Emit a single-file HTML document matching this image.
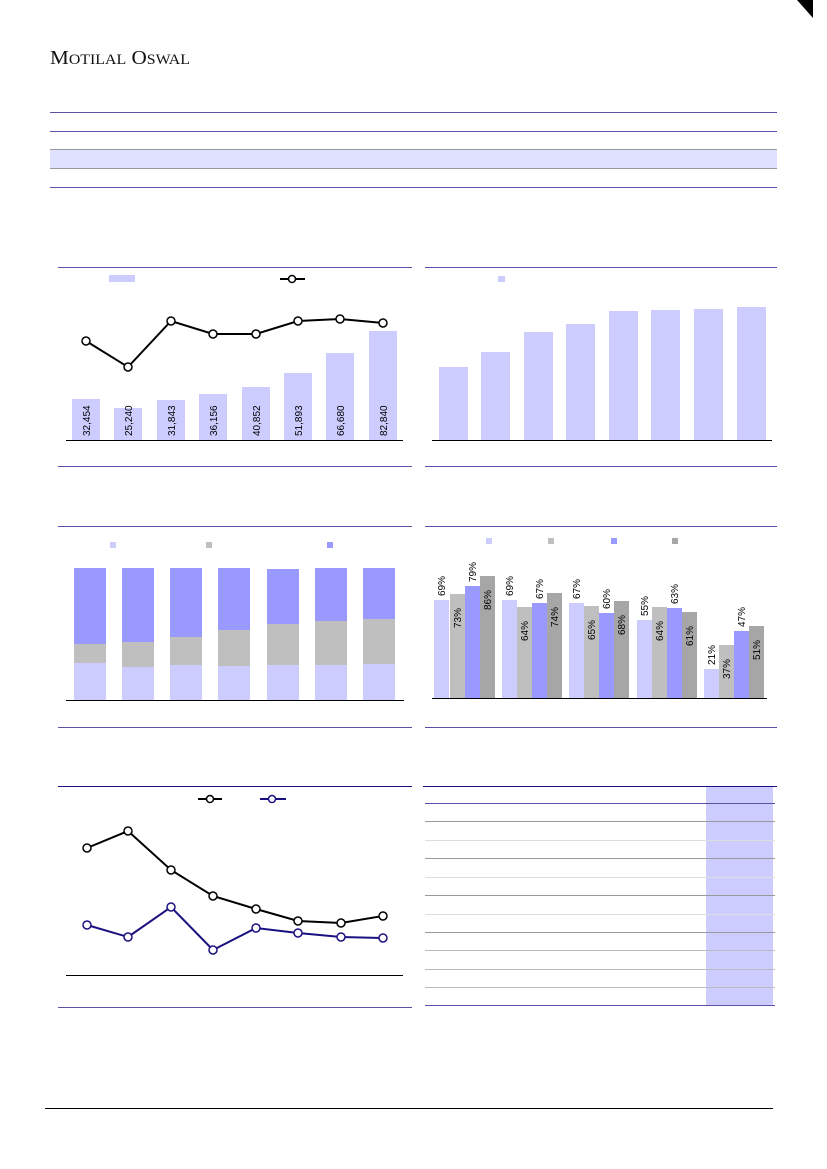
<!DOCTYPE html>
<html><head><meta charset="utf-8"><style>
body{margin:0;background:#fff;}
svg{display:block;font-family:"Liberation Sans",sans-serif;}
</style></head><body>
<svg width="827" height="1169" viewBox="0 0 827 1169" xmlns="http://www.w3.org/2000/svg">
<polygon points="797,0 813,0 813,18" fill="#000"/>
<text x="50" y="64" font-family="Liberation Serif" font-size="20" fill="#111" textLength="140" lengthAdjust="spacingAndGlyphs">M<tspan font-size="15">OTILAL</tspan> O<tspan font-size="15">SWAL</tspan></text>
<g shape-rendering="crispEdges">
<rect x="50" y="149" width="727" height="19" fill="#e0e0ff"/>
<line x1="50" y1="112.5" x2="777" y2="112.5" stroke="#5b50a8"/>
<line x1="50" y1="131.5" x2="777" y2="131.5" stroke="#5b50a8"/>
<line x1="50" y1="149.5" x2="777" y2="149.5" stroke="#999"/>
<line x1="50" y1="168.5" x2="777" y2="168.5" stroke="#999"/>
<line x1="50" y1="187.5" x2="777" y2="187.5" stroke="#5b50a8"/>

<line x1="58" y1="267.5" x2="412" y2="267.5" stroke="#5b50a8"/>
<line x1="58" y1="466.5" x2="412" y2="466.5" stroke="#5b50a8"/>
<line x1="425" y1="267.5" x2="777" y2="267.5" stroke="#5b50a8"/>
<line x1="425" y1="466.5" x2="777" y2="466.5" stroke="#5b50a8"/>
<line x1="58" y1="526.5" x2="412" y2="526.5" stroke="#5b50a8"/>
<line x1="58" y1="727.5" x2="412" y2="727.5" stroke="#5b50a8"/>
<line x1="425" y1="526.5" x2="777" y2="526.5" stroke="#5b50a8"/>
<line x1="425" y1="727.5" x2="777" y2="727.5" stroke="#5b50a8"/>
<line x1="58" y1="786.5" x2="412" y2="786.5" stroke="#1a1080"/>
<line x1="58" y1="1007.5" x2="412" y2="1007.5" stroke="#5b50a8"/>
</g>

<!-- chart 1 -->
<rect x="109" y="275" width="26" height="7" fill="#ccccff"/>
<line x1="280" y1="279" x2="305" y2="279" stroke="#000" stroke-width="2"/>
<circle cx="292" cy="279" r="3.5" fill="#fff" stroke="#000" stroke-width="1.5"/>
<g fill="#ccccff">
<rect x="72" y="399" width="28" height="41"/><rect x="114" y="408" width="28" height="32"/>
<rect x="157" y="400" width="28" height="40"/><rect x="199" y="394" width="28" height="46"/>
<rect x="242" y="387" width="28" height="53"/><rect x="284" y="373" width="28" height="67"/>
<rect x="326" y="353" width="28" height="87"/><rect x="369" y="331" width="28" height="109"/>
</g>
<line x1="66" y1="440.5" x2="403" y2="440.5" stroke="#000"/>
<g font-size="10" fill="#000">
<text transform="translate(90,436) rotate(-90)">32,454</text>
<text transform="translate(132,436) rotate(-90)">25,240</text>
<text transform="translate(175,436) rotate(-90)">31,843</text>
<text transform="translate(217,436) rotate(-90)">36,156</text>
<text transform="translate(260,436) rotate(-90)">40,852</text>
<text transform="translate(302,436) rotate(-90)">51,893</text>
<text transform="translate(344,436) rotate(-90)">66,680</text>
<text transform="translate(387,436) rotate(-90)">82,840</text>
</g>
<polyline points="86,341 128,367 171,321 213,334 256,334 298,321 340,319 383,323" fill="none" stroke="#000" stroke-width="2"/>
<g fill="#fff" stroke="#000" stroke-width="1.5">
<circle cx="86" cy="341" r="4"/><circle cx="128" cy="367" r="4"/><circle cx="171" cy="321" r="4"/><circle cx="213" cy="334" r="4"/><circle cx="256" cy="334" r="4"/><circle cx="298" cy="321" r="4"/><circle cx="340" cy="319" r="4"/><circle cx="383" cy="323" r="4"/>
</g>

<!-- chart 2 -->
<rect x="498" y="276" width="7" height="6" fill="#ccccff"/>
<g fill="#ccccff">
<rect x="439" y="367" width="29" height="73"/><rect x="481" y="352" width="29" height="88"/>
<rect x="524" y="332" width="29" height="108"/><rect x="566" y="324" width="29" height="116"/>
<rect x="609" y="311" width="29" height="129"/><rect x="651" y="310" width="29" height="130"/>
<rect x="694" y="309" width="29" height="131"/><rect x="737" y="307" width="29" height="133"/>
</g>
<line x1="432" y1="440.5" x2="772" y2="440.5" stroke="#000"/>

<!-- chart 3 -->
<rect x="110" y="542" width="6" height="6" fill="#ccccff"/>
<rect x="206" y="542" width="6" height="6" fill="#bfbfbf"/>
<rect x="327" y="542" width="6" height="6" fill="#9999ff"/>
<g>
<rect x="74" y="568" width="32" height="76" fill="#9999ff"/><rect x="74" y="644" width="32" height="19" fill="#bfbfbf"/><rect x="74" y="663" width="32" height="37" fill="#ccccff"/>
<rect x="122" y="568" width="32" height="74" fill="#9999ff"/><rect x="122" y="642" width="32" height="25" fill="#bfbfbf"/><rect x="122" y="667" width="32" height="33" fill="#ccccff"/>
<rect x="170" y="568" width="32" height="69" fill="#9999ff"/><rect x="170" y="637" width="32" height="28" fill="#bfbfbf"/><rect x="170" y="665" width="32" height="35" fill="#ccccff"/>
<rect x="218" y="568" width="32" height="62" fill="#9999ff"/><rect x="218" y="630" width="32" height="36" fill="#bfbfbf"/><rect x="218" y="666" width="32" height="34" fill="#ccccff"/>
<rect x="267" y="569" width="32" height="55" fill="#9999ff"/><rect x="267" y="624" width="32" height="41" fill="#bfbfbf"/><rect x="267" y="665" width="32" height="35" fill="#ccccff"/>
<rect x="315" y="568" width="32" height="53" fill="#9999ff"/><rect x="315" y="621" width="32" height="44" fill="#bfbfbf"/><rect x="315" y="665" width="32" height="35" fill="#ccccff"/>
<rect x="363" y="568" width="32" height="51" fill="#9999ff"/><rect x="363" y="619" width="32" height="45" fill="#bfbfbf"/><rect x="363" y="664" width="32" height="36" fill="#ccccff"/>
</g>
<line x1="66" y1="700.5" x2="404" y2="700.5" stroke="#000"/>

<!-- chart 4 -->
<rect x="486" y="538" width="6" height="6" fill="#ccccff"/>
<rect x="548" y="538" width="6" height="6" fill="#bfbfbf"/>
<rect x="611" y="538" width="6" height="6" fill="#9999ff"/>
<rect x="672" y="538" width="6" height="6" fill="#a6a6a6"/>
<g>
<rect x="434" y="600" width="15" height="98" fill="#ccccff"/><rect x="450" y="594" width="15" height="104" fill="#bfbfbf"/><rect x="465" y="586" width="15" height="112" fill="#9999ff"/><rect x="480" y="576" width="15" height="122" fill="#a6a6a6"/>
<rect x="502" y="600" width="15" height="98" fill="#ccccff"/><rect x="517" y="607" width="15" height="91" fill="#bfbfbf"/><rect x="532" y="603" width="15" height="95" fill="#9999ff"/><rect x="547" y="593" width="15" height="105" fill="#a6a6a6"/>
<rect x="569" y="603" width="15" height="95" fill="#ccccff"/><rect x="584" y="606" width="15" height="92" fill="#bfbfbf"/><rect x="599" y="613" width="15" height="85" fill="#9999ff"/><rect x="614" y="601" width="15" height="97" fill="#a6a6a6"/>
<rect x="637" y="620" width="15" height="78" fill="#ccccff"/><rect x="652" y="607" width="15" height="91" fill="#bfbfbf"/><rect x="667" y="608" width="15" height="90" fill="#9999ff"/><rect x="682" y="612" width="15" height="86" fill="#a6a6a6"/>
<rect x="704" y="669" width="15" height="29" fill="#ccccff"/><rect x="719" y="645" width="15" height="53" fill="#bfbfbf"/><rect x="734" y="631" width="15" height="67" fill="#9999ff"/><rect x="749" y="626" width="15" height="72" fill="#a6a6a6"/>
</g>
<line x1="432" y1="698.5" x2="767" y2="698.5" stroke="#000"/>
<g font-size="10" fill="#000">
<text transform="translate(445,596) rotate(-90)">69%</text>
<text transform="translate(461,628) rotate(-90)">73%</text>
<text transform="translate(476,582) rotate(-90)">79%</text>
<text transform="translate(491,610) rotate(-90)">86%</text>
<text transform="translate(513,596) rotate(-90)">69%</text>
<text transform="translate(528,641) rotate(-90)">64%</text>
<text transform="translate(543,599) rotate(-90)">67%</text>
<text transform="translate(558,627) rotate(-90)">74%</text>
<text transform="translate(580,599) rotate(-90)">67%</text>
<text transform="translate(595,640) rotate(-90)">65%</text>
<text transform="translate(610,609) rotate(-90)">60%</text>
<text transform="translate(625,635) rotate(-90)">68%</text>
<text transform="translate(648,616) rotate(-90)">55%</text>
<text transform="translate(663,641) rotate(-90)">64%</text>
<text transform="translate(678,604) rotate(-90)">63%</text>
<text transform="translate(693,646) rotate(-90)">61%</text>
<text transform="translate(715,665) rotate(-90)">21%</text>
<text transform="translate(730,679) rotate(-90)">37%</text>
<text transform="translate(745,627) rotate(-90)">47%</text>
<text transform="translate(760,660) rotate(-90)">51%</text>
</g>

<!-- chart 5 -->
<line x1="198" y1="799" x2="222" y2="799" stroke="#000" stroke-width="2"/>
<circle cx="210" cy="799" r="3.5" fill="#fff" stroke="#000" stroke-width="1.5"/>
<line x1="260" y1="799" x2="286" y2="799" stroke="#1a1080" stroke-width="2"/>
<circle cx="272" cy="799" r="3.5" fill="#fff" stroke="#1a1080" stroke-width="1.5"/>
<line x1="66" y1="975.5" x2="403" y2="975.5" stroke="#000"/>
<polyline points="87,848 128,831 171,870 213,896 256,909 298,921 341,923 383,916" fill="none" stroke="#000" stroke-width="2"/>
<polyline points="87,925 128,937 171,907 213,950 256,928 298,933 341,937 383,938" fill="none" stroke="#1a1080" stroke-width="2"/>
<g fill="#fff" stroke="#000" stroke-width="1.5">
<circle cx="87" cy="848" r="4"/><circle cx="128" cy="831" r="4"/><circle cx="171" cy="870" r="4"/><circle cx="213" cy="896" r="4"/><circle cx="256" cy="909" r="4"/><circle cx="298" cy="921" r="4"/><circle cx="341" cy="923" r="4"/><circle cx="383" cy="916" r="4"/>
</g>
<g fill="#fff" stroke="#1a1080" stroke-width="1.5">
<circle cx="87" cy="925" r="4"/><circle cx="128" cy="937" r="4"/><circle cx="171" cy="907" r="4"/><circle cx="213" cy="950" r="4"/><circle cx="256" cy="928" r="4"/><circle cx="298" cy="933" r="4"/><circle cx="341" cy="937" r="4"/><circle cx="383" cy="938" r="4"/>
</g>

<!-- table right -->
<g shape-rendering="crispEdges">
<rect x="706" y="787" width="67" height="218" fill="#ccccff"/>
<line x1="423" y1="786.5" x2="777" y2="786.5" stroke="#1a1080" stroke-width="1"/>
<line x1="425" y1="803.5" x2="775" y2="803.5" stroke="#5b50a8"/>
<g stroke="#999">
<line x1="425" y1="821.5" x2="775" y2="821.5"/>
<line x1="425" y1="840.5" x2="775" y2="840.5" stroke="#ddd"/>
<line x1="425" y1="858.5" x2="775" y2="858.5"/>
<line x1="425" y1="877.5" x2="775" y2="877.5" stroke="#ddd"/>
<line x1="425" y1="895.5" x2="775" y2="895.5"/>
<line x1="425" y1="914.5" x2="775" y2="914.5" stroke="#ddd"/>
<line x1="425" y1="932.5" x2="775" y2="932.5"/>
<line x1="425" y1="950.5" x2="775" y2="950.5" stroke="#bbb"/>
<line x1="425" y1="969.5" x2="775" y2="969.5" stroke="#bbb"/>
<line x1="425" y1="987.5" x2="775" y2="987.5" stroke="#bbb"/>
</g>
<line x1="425" y1="1005.5" x2="775" y2="1005.5" stroke="#5b50a8"/>
<line x1="45" y1="1108.5" x2="773" y2="1108.5" stroke="#000"/>
</g>
</svg>
</body></html>
